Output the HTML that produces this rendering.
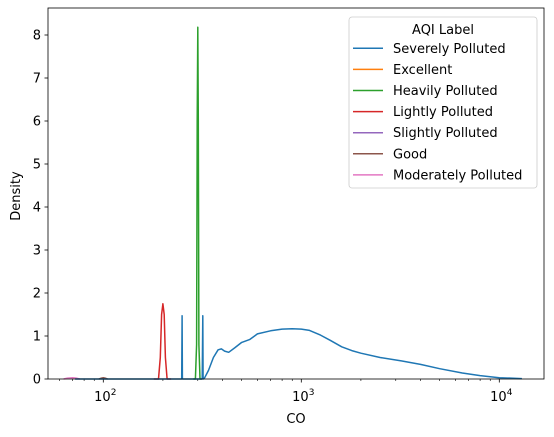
<!DOCTYPE html>
<html><head><meta charset="utf-8"><style>
body{margin:0;background:#fff}
svg{display:block;font-family:"DejaVu Sans","Liberation Sans",sans-serif}
</style></head><body>
<svg id="chart" width="554" height="437"></svg>
<script>
const categories=["Severely Polluted","Excellent","Heavily Polluted","Lightly Polluted","Slightly Polluted","Good","Moderately Polluted"];
const colors=["#1f77b4","#ff7f0e","#2ca02c","#d62728","#9467bd","#8c564b","#e377c2"];
const blueX=[72,100,150,200,249,250,251,300,316,318,319,325,340,360,380,395,410,430,460,500,550,600,700,800,900,1000,1100,1250,1400,1600,1800,2000,2500,3200,4000,5000,6500,8000,10000,13000];
const blueY=[0,0,0,0,0,1.47,0,0,0,1.47,0,0.03,0.2,0.5,0.68,0.7,0.65,0.62,0.72,0.85,0.92,1.05,1.12,1.16,1.17,1.16,1.13,1.02,0.9,0.75,0.66,0.6,0.5,0.42,0.34,0.24,0.14,0.08,0.03,0.01];
const greenX=[285,292,296,298,300,302,304,308,315];
const greenY=[0,0,0.8,6,8.18,6,0.8,0,0];
const redX=[180,190,194,197,200,203,206,210,220];
const redY=[0,0,0.5,1.5,1.75,1.5,0.5,0,0];
const pinkX=[63,66,70,73,76];
const pinkY=[0,0.02,0.03,0.02,0];
const brownX=[95,98,100,102,105];
const brownY=[0,0.02,0.03,0.02,0];
const yTicks=[0,1,2,3,4,5,6,7,8];
const xMajor=[2,3,4];
const L=48,R=544,T=8,B=379;
const xs=v=>103.3+198*(Math.log10(v)-2);
const ys=v=>379-43*v;
const svg=document.getElementById('chart');
const NS="http://www.w3.org/2000/svg";
function mk(t,a){const e=document.createElementNS(NS,t);for(const k in a)e.setAttribute(k,a[k]);svg.appendChild(e);return e;}
for(const t of yTicks){
 const l=mk('line',{x1:L-3.5,x2:L,y1:ys(t),y2:ys(t),stroke:'#000','stroke-width':0.8});
 
 
 const tx=mk('text',{x:L-7,y:ys(t)+4.5,'text-anchor':'end','font-size':13});
 tx.textContent=t;
 
 
}
for(let d=1;d<=4;d++){for(let m=2;m<=9;m++){const v=m*Math.pow(10,d);const x=xs(v);if(x<L||x>R)continue;
 const l=mk('line',{x1:x,x2:x,y1:B,y2:B+2,stroke:'#000','stroke-width':0.6});
 
 }}
for(const p of xMajor){const x=xs(Math.pow(10,p));
 const l=mk('line',{x1:x,x2:x,y1:B,y2:B+3.5,stroke:'#000','stroke-width':0.8});
 
 
 const tx=mk('text',{x:x+2,y:B+22,'text-anchor':'middle','font-size':13});
 tx.innerHTML='10<tspan dy="-6" font-size="9">'+p+'</tspan>';
 
 }
function series(X,Y,c,name){let d='';X.forEach((x,i)=>{d+=(i?'L':'M')+xs(x).toFixed(1)+','+ys(Y[i]).toFixed(1);});
 const p=mk('path',{d:d,fill:'none',stroke:c,'stroke-width':1.5,'stroke-linejoin':'round'});
 
 }
series(pinkX,pinkY,colors[6],'moderately-polluted-line');
series(brownX,brownY,colors[5],'good-line');
series(redX,redY,colors[3],'lightly-polluted-line');
series(greenX,greenY,colors[2],'heavily-polluted-line');
series(blueX,blueY,colors[0],'severely-polluted-line');
const fr=mk('rect',{x:L,y:T,width:R-L,height:B-T,fill:'none',stroke:'#000','stroke-width':0.8});


const xt=mk('text',{x:296,y:423,'text-anchor':'middle','font-size':13});xt.textContent='CO';


const yt=mk('text',{x:20,y:196,'text-anchor':'middle','font-size':13,transform:'rotate(-90 20 196)'});yt.textContent='Density';


const lb=mk('rect',{x:349,y:17,width:188,height:171,rx:3,fill:'#fff','fill-opacity':0.8,stroke:'#ccc','stroke-width':0.8});


const lt=mk('text',{x:443,y:34,'text-anchor':'middle','font-size':13});lt.textContent='AQI Label';


categories.forEach((c,i)=>{const y=48.3+21.1*i;
 const l=mk('line',{x1:353,x2:383,y1:y,y2:y,stroke:colors[i],'stroke-width':1.5});
 
 
 const t=mk('text',{x:393,y:y+4.5,'font-size':13});t.textContent=c;
 
 });
</script>
</body></html>
